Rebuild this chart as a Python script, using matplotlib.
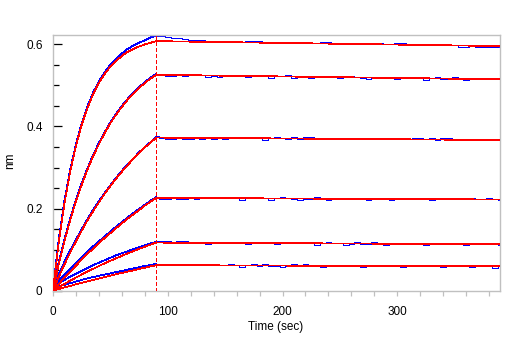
import matplotlib
matplotlib.use("Agg")
import matplotlib.pyplot as plt
from matplotlib.ticker import MultipleLocator, FixedLocator

plt.rcParams['font.family'] = ['Liberation Sans', 'DejaVu Sans']

# Association phase (0-90 s) and dissociation phase (90-390 s)
t_assoc = [0, 5, 10, 15, 20, 25, 30, 35, 40, 45, 50, 55, 60, 65, 70, 75, 80, 85, 90]
t_fit_dissoc = [90, 150, 210, 270, 330, 390]
t_raw_dissoc = list(range(90, 391, 5))

# Fitted curves (nm), one per analyte concentration
fit1_assoc = [0, 0.118, 0.213, 0.290, 0.353, 0.404, 0.445, 0.479, 0.506, 0.528, 0.546, 0.560,
              0.572, 0.582, 0.589, 0.595, 0.600, 0.604, 0.608]
fit2_assoc = [0, 0.064, 0.121, 0.172, 0.218, 0.258, 0.295, 0.328, 0.357, 0.384, 0.408, 0.429,
              0.448, 0.465, 0.480, 0.494, 0.506, 0.517, 0.526]
fit3_assoc = [0, 0.033, 0.064, 0.093, 0.120, 0.146, 0.171, 0.194, 0.215, 0.236, 0.255, 0.273,
              0.290, 0.306, 0.321, 0.335, 0.349, 0.361, 0.373]
fit4_assoc = [0, 0.016, 0.032, 0.0467, 0.061, 0.0754, 0.0895, 0.1026, 0.1155, 0.1284, 0.140,
              0.1523, 0.164, 0.175, 0.186, 0.196, 0.207, 0.2165, 0.226]
fit5_assoc = [0, 0.0083, 0.0163, 0.0242, 0.0317, 0.0390, 0.0463, 0.0530, 0.0598, 0.0665,
              0.0727, 0.0788, 0.0847, 0.0906, 0.0962, 0.1016, 0.1069, 0.1121, 0.117]
fit6_assoc = [0, 0.0039, 0.0077, 0.0115, 0.0152, 0.0189, 0.0225, 0.0261, 0.0296, 0.0330,
              0.0364, 0.0398, 0.0432, 0.0463, 0.0494, 0.0526, 0.0557, 0.0589, 0.062]

fit1_dissoc = [0.608, 0.6056, 0.6032, 0.6008, 0.5984, 0.596]
fit2_dissoc = [0.526, 0.5238, 0.5216, 0.5194, 0.5172, 0.515]
fit3_dissoc = [0.373, 0.3718, 0.3706, 0.3694, 0.3682, 0.367]
fit4_dissoc = [0.226, 0.2252, 0.2244, 0.2236, 0.2228, 0.222]
fit5_dissoc = [0.117, 0.1162, 0.1154, 0.1146, 0.1138, 0.113]
fit6_dissoc = [0.062, 0.0614, 0.0608, 0.0602, 0.0596, 0.059]

# Measured sensor response (nm)
raw1_assoc = [0.003, 0.125, 0.220, 0.295, 0.357, 0.408, 0.449, 0.483, 0.510, 0.532, 0.551,
              0.565, 0.578, 0.589, 0.597, 0.604, 0.610, 0.617, 0.621]
raw2_assoc = [0.004, 0.070, 0.126, 0.176, 0.222, 0.262, 0.298, 0.331, 0.360, 0.386, 0.410,
              0.431, 0.450, 0.467, 0.483, 0.496, 0.508, 0.519, 0.528]
raw3_assoc = [0.004, 0.040, 0.070, 0.098, 0.124, 0.150, 0.174, 0.197, 0.218, 0.238, 0.257,
              0.275, 0.292, 0.308, 0.322, 0.337, 0.350, 0.362, 0.374]
raw4_assoc = [0.005, 0.024, 0.040, 0.054, 0.068, 0.082, 0.095, 0.108, 0.120, 0.132, 0.144,
              0.156, 0.167, 0.178, 0.189, 0.199, 0.209, 0.219, 0.228]
raw5_assoc = [0.006, 0.017, 0.026, 0.034, 0.041, 0.048, 0.055, 0.062, 0.068, 0.074, 0.080,
              0.086, 0.091, 0.096, 0.101, 0.106, 0.110, 0.115, 0.119]
raw6_assoc = [0.005, 0.010, 0.014, 0.018, 0.022, 0.026, 0.0295, 0.033, 0.036, 0.039, 0.042,
              0.045, 0.048, 0.051, 0.054, 0.057, 0.060, 0.0625, 0.065]

raw1_dissoc = [0.621, 0.6195, 0.618, 0.616, 0.6145, 0.613, 0.612, 0.611, 0.6105, 0.6095,
               0.609, 0.6088, 0.6085, 0.6085, 0.6082, 0.6049, 0.6077, 0.6075, 0.6073, 0.6041,
               0.6069, 0.6067, 0.6065, 0.6033, 0.6061, 0.6059, 0.6057, 0.6025, 0.6023, 0.6051,
               0.6049, 0.6047, 0.6045, 0.6013, 0.6041, 0.6039, 0.6037, 0.6005, 0.6033, 0.6031,
               0.6002, 0.600, 0.6025, 0.6023, 0.6021, 0.5991, 0.5989, 0.6015, 0.6013, 0.5983,
               0.5981, 0.5979, 0.5977, 0.5945, 0.5943, 0.5971, 0.5939, 0.5937, 0.5935, 0.5933,
               0.593]
raw2_dissoc = [0.529, 0.5258, 0.5226, 0.5225, 0.5253, 0.5221, 0.5249, 0.5277, 0.5245, 0.5214,
               0.5242, 0.5210, 0.5238, 0.5236, 0.5264, 0.5233, 0.5201, 0.5229, 0.5257, 0.5225,
               0.5193, 0.5222, 0.5220, 0.5248, 0.5186, 0.5214, 0.5212, 0.5181, 0.5209, 0.5237,
               0.5205, 0.5203, 0.5171, 0.5200, 0.5228, 0.5196, 0.5194, 0.5162, 0.5190, 0.5189,
               0.5217, 0.5185, 0.5153, 0.5181, 0.5179, 0.5208, 0.5176, 0.5144, 0.5172, 0.5200,
               0.5168, 0.5167, 0.5195, 0.5163, 0.5131, 0.5159, 0.5187, 0.5156, 0.5154, 0.5182,
               0.5150]
raw3_dissoc = [0.376, 0.3729, 0.3698, 0.3697, 0.3726, 0.3695, 0.3694, 0.3723, 0.3692, 0.3721,
               0.3690, 0.3719, 0.3688, 0.3717, 0.3716, 0.3745, 0.3714, 0.3743, 0.3712, 0.3681,
               0.3710, 0.3739, 0.3708, 0.3707, 0.3736, 0.3705, 0.3734, 0.3733, 0.3702, 0.3731,
               0.3730, 0.3699, 0.3728, 0.3727, 0.3696, 0.3725, 0.3694, 0.3723, 0.3722, 0.3691,
               0.3720, 0.3689, 0.3718, 0.3717, 0.3686, 0.3715, 0.3714, 0.3683, 0.3712, 0.3681,
               0.3710, 0.3709, 0.3678, 0.3707, 0.3676, 0.3705, 0.3704, 0.3673, 0.3702, 0.3701,
               0.3670]
raw4_dissoc = [0.2290, 0.2229, 0.2229, 0.2258, 0.2227, 0.2227, 0.2256, 0.2225, 0.2255, 0.2254,
               0.2283, 0.2253, 0.2252, 0.2281, 0.2251, 0.2220, 0.2249, 0.2279, 0.2248, 0.2247,
               0.2217, 0.2246, 0.2275, 0.2245, 0.2244, 0.2213, 0.2243, 0.2242, 0.2271, 0.2241,
               0.2210, 0.2239, 0.2269, 0.2238, 0.2237, 0.2267, 0.2236, 0.2205, 0.2235, 0.2264,
               0.2233, 0.2203, 0.2232, 0.2231, 0.2261, 0.2230, 0.2259, 0.2229, 0.2198, 0.2227,
               0.2257, 0.2226, 0.2225, 0.2255, 0.2224, 0.2253, 0.2223, 0.2222, 0.2251, 0.2221,
               0.2220]
raw5_dissoc = [0.1200, 0.1199, 0.1199, 0.1168, 0.1197, 0.1197, 0.1166, 0.1195, 0.1165, 0.1134,
               0.1163, 0.1193, 0.1162, 0.1161, 0.1191, 0.1160, 0.1129, 0.1159, 0.1188, 0.1157,
               0.1157, 0.1126, 0.1155, 0.1185, 0.1154, 0.1153, 0.1183, 0.1152, 0.1121, 0.1151,
               0.1180, 0.1149, 0.1149, 0.1118, 0.1147, 0.1177, 0.1146, 0.1145, 0.1175, 0.1144,
               0.1113, 0.1143, 0.1172, 0.1141, 0.1171, 0.1140, 0.1139, 0.1109, 0.1138, 0.1167,
               0.1137, 0.1166, 0.1135, 0.1135, 0.1104, 0.1133, 0.1163, 0.1132, 0.1161, 0.1131,
               0.1100]
raw6_dissoc = [0.0650, 0.0650, 0.0649, 0.0649, 0.0618, 0.0648, 0.0647, 0.0617, 0.0646, 0.0616,
               0.0645, 0.0615, 0.0614, 0.0644, 0.0613, 0.0583, 0.0612, 0.0642, 0.0611, 0.0641,
               0.0610, 0.0610, 0.0579, 0.0609, 0.0638, 0.0608, 0.0637, 0.0607, 0.0606, 0.0576,
               0.0605, 0.0635, 0.0604, 0.0634, 0.0603, 0.0603, 0.0572, 0.0602, 0.0631, 0.0601,
               0.0600, 0.0630, 0.0599, 0.0569, 0.0598, 0.0628, 0.0597, 0.0597, 0.0626, 0.0596,
               0.0565, 0.0595, 0.0624, 0.0594, 0.0593, 0.0563, 0.0592, 0.0622, 0.0591, 0.0561,
               0.0590]

fits_assoc = [fit1_assoc, fit2_assoc, fit3_assoc, fit4_assoc, fit5_assoc, fit6_assoc]
fits_dissoc = [fit1_dissoc, fit2_dissoc, fit3_dissoc, fit4_dissoc, fit5_dissoc, fit6_dissoc]
raws_assoc = [raw1_assoc, raw2_assoc, raw3_assoc, raw4_assoc, raw5_assoc, raw6_assoc]
raws_dissoc = [raw1_dissoc, raw2_dissoc, raw3_dissoc, raw4_dissoc, raw5_dissoc, raw6_dissoc]

y_ticks = [0, 0.2, 0.4, 0.6]
y_ticklabels = ["0", "0.2", "0.4", "0.6"]
x_ticks = [0, 100, 200, 300]
x_ticklabels = ["0", "100", "200", "300"]
step_time = 90

W, H = 510, 341
fig = plt.figure(figsize=(W / 100, H / 100), dpi=100)
ax = fig.add_axes([53 / W, 1 - 291 / H, 447 / W, 256 / H])

blue = (0, 0, 1)
red = (1, 0, 0)
lw = 0.55

for ra, rd in zip(raws_assoc, raws_dissoc):
    ax.plot(t_assoc, ra, color=blue, lw=lw, antialiased=False, zorder=2)
    ax.plot(t_raw_dissoc, rd, color=blue, lw=lw, drawstyle='steps-mid',
            antialiased=False, zorder=2)
for fa, fd in zip(fits_assoc, fits_dissoc):
    ax.plot(t_assoc, fa, color=red, lw=lw, antialiased=False, zorder=3)
    ax.plot(t_fit_dissoc, fd, color=red, lw=lw, antialiased=False, zorder=3)

ax.axvline(step_time, color=red, lw=lw, ls=(0, (5, 3.5)), antialiased=False, zorder=4)

ax.set_xlim(0, 389.5)
ax.set_ylim(-0.001, 0.623)

frame = '#c0c0c0'
for s in ax.spines.values():
    s.set_color(frame)
    s.set_linewidth(1.0)

ax.yaxis.set_major_locator(FixedLocator(y_ticks))
ax.set_yticklabels(y_ticklabels)
ax.yaxis.set_minor_locator(MultipleLocator(0.05))
ax.xaxis.set_major_locator(FixedLocator(x_ticks))
ax.set_xticklabels(x_ticklabels)
ax.xaxis.set_minor_locator(MultipleLocator(20))

ax.tick_params(axis='y', which='major', direction='in', length=6.5, width=0.9,
               color='black', labelsize=8.5, pad=7.5)
ax.tick_params(axis='y', which='minor', direction='in', length=4.3, width=0.9, color='black')
ax.tick_params(axis='x', which='both', direction='out', length=3.6, width=0.9,
               color=frame, labelsize=8.5, pad=7.5)

fig.text(276 / W, 1 - 327 / H, "Time (sec)", ha='center', va='center', fontsize=8.5)
fig.text(10 / W, 1 - 161 / H, "nm", ha='center', va='center', rotation=90, fontsize=8.5)

fig.savefig("out.png", dpi=100)
